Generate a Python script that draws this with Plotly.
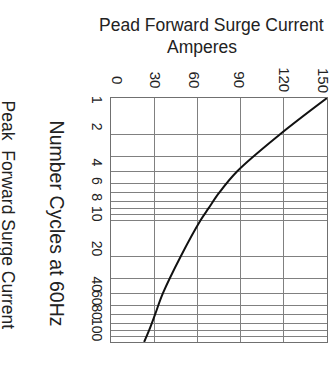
import math
import plotly.graph_objects as go

# Data
cycles = [1, 2, 4, 6, 8, 10, 20, 40, 60, 80, 100]
current = [150, 117, 87.5, 75, 67.8, 62.3, 48.3, 36, 30.5, 26.5, 23]

x_ticks = [0, 30, 60, 90, 120, 150]
y_grid = [1, 2, 3, 4, 5, 6, 7, 8, 9, 10, 20, 30, 40, 50, 60, 70, 80, 90, 100]
y_labels = [1, 2, 4, 6, 8, 10, 20, 40, 60, 80, 100]

title_line1 = "Pead Forward Surge Current"
title_line2 = "Amperes"
x_title = "Number Cycles at 60Hz"
chart_title = "Peak  Forward Surge Current"

# label placement nudges (pixels), styling only
x_label_shift = [6, 1, -3, -2, 0, -4]
y_label_shift = [-2, 8, 9, 12, 11, 6, 8, 9, 17, 18, 12]

FONT = "Liberation Sans, Arial, sans-serif"
TXT = "#222222"
GRID = "#808080"

fig = go.Figure()
fig.add_trace(go.Scatter(
    x=current, y=cycles, mode="lines",
    line=dict(color="#111111", width=2, shape="spline", smoothing=1.0),
    hoverinfo="skip", showlegend=False,
))

annotations = []
for v, dx in zip(x_ticks, x_label_shift):
    annotations.append(dict(
        x=v, xref="x", y=1.074, yref="paper", text=str(v), showarrow=False,
        textangle=90, xanchor="center", yanchor="middle", xshift=dx,
        font=dict(family=FONT, size=15, color=TXT),
    ))
for v, dy in zip(y_labels, y_label_shift):
    annotations.append(dict(
        x=-0.065, xref="paper", y=math.log10(v), yref="y", text=str(v),
        showarrow=False, textangle=90, xanchor="center", yanchor="middle",
        yshift=dy, font=dict(family=FONT, size=14, color=TXT),
    ))
annotations += [
    dict(x=0.467, y=1.299, xref="paper", yref="paper", text=title_line1,
         showarrow=False, xanchor="center", yanchor="middle",
         font=dict(family=FONT, size=17.5, color=TXT)),
    dict(x=0.423, y=1.209, xref="paper", yref="paper", text=title_line2,
         showarrow=False, xanchor="center", yanchor="middle",
         font=dict(family=FONT, size=17.5, color=TXT)),
    dict(x=-0.252, y=0.487, xref="paper", yref="paper", text=x_title,
         showarrow=False, textangle=90, xanchor="center", yanchor="middle",
         font=dict(family=FONT, size=19.5, color=TXT)),
    dict(x=-0.479, y=0.52, xref="paper", yref="paper", text=chart_title,
         showarrow=False, textangle=90, xanchor="center", yanchor="middle",
         font=dict(family=FONT, size=17.5, color=TXT)),
]

fig.update_layout(
    width=336, height=381,
    margin=dict(l=111, r=9, t=98, b=39),
    paper_bgcolor="white", plot_bgcolor="white",
    showlegend=False,
    annotations=annotations,
    xaxis=dict(
        range=[0, 150], tickvals=x_ticks, showticklabels=False,
        showgrid=True, gridcolor=GRID, gridwidth=1, zeroline=False,
        showline=True, linecolor="#707070", linewidth=1, mirror=True,
        ticks="", fixedrange=True, automargin=False,
    ),
    yaxis=dict(
        type="log", range=[2, 0], tickvals=y_grid, showticklabels=False,
        showgrid=True, gridcolor=GRID, gridwidth=1, zeroline=False,
        showline=True, linecolor="#707070", linewidth=1, mirror=True,
        ticks="", fixedrange=True, automargin=False,
    ),
)

fig.write_html(
    "out.html",
    config={"displayModeBar": False},
    post_script="document.body.style.margin='0';",
)
